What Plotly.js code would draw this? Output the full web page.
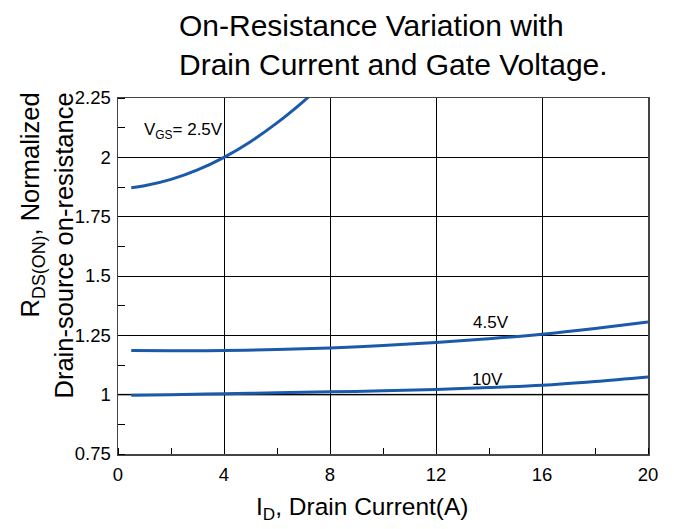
<!DOCTYPE html>
<html>
<head>
<meta charset="utf-8">
<script src="https://cdn.plot.ly/plotly-3.0.1.min.js"></script>
<style>
  html, body { margin: 0; padding: 0; background: #fff; }
  #chart { width: 674px; height: 529px; }
</style>
</head>
<body>
<div id="chart"></div>
<script>
// Drain current (A) and normalized on-resistance for each gate voltage
const idVgs25 = [0.5, 1, 2, 3, 4, 5, 6, 7, 7.5];
const rVgs25  = [1.872, 1.880, 1.907, 1.947, 2.0, 2.066, 2.145, 2.236, 2.287];

const idVgs45 = [0.5, 2, 4, 6, 8, 10, 12, 14, 16, 18, 20];
const rVgs45  = [1.186, 1.185, 1.186, 1.190, 1.197, 1.207, 1.220, 1.236, 1.255, 1.279, 1.306];

const idVgs10 = [0.5, 2, 4, 6, 8, 10, 12, 14, 16, 18, 20];
const rVgs10  = [0.998, 1.000, 1.004, 1.008, 1.012, 1.016, 1.022, 1.030, 1.040, 1.056, 1.075];

const xTicks = [0, 4, 8, 12, 16, 20];
const yTicks = [0.75, 1, 1.25, 1.5, 1.75, 2, 2.25];
const yTickText = ['0.75', '1', '1.25', '1.5', '1.75', '2', '2.25'];

const curveColor = '#1a5aab';
const font = 'Liberation Sans, Arial, sans-serif';

function curve(x, y, name) {
  return {
    x: x, y: y, name: name, type: 'scatter', mode: 'lines',
    line: { color: curveColor, width: 3, shape: 'spline', smoothing: 1 },
    hoverinfo: 'x+y'
  };
}

const data = [
  curve(idVgs25, rVgs25, 'VGS = 2.5V'),
  curve(idVgs45, rVgs45, 'VGS = 4.5V'),
  curve(idVgs10, rVgs10, 'VGS = 10V')
];

const layout = {
  width: 674, height: 529,
  margin: { l: 118, r: 26, t: 97.5, b: 75, pad: 0 },
  paper_bgcolor: '#fff', plot_bgcolor: '#fff',
  showlegend: false,
  font: { family: font, color: '#000' },
  title: {
    text: 'On-Resistance Variation with<br>Drain Current and Gate Voltage.',
    font: { family: font, size: 30, color: '#000' },
    xref: 'container', x: 179 / 674, xanchor: 'left',
    yref: 'container', y: 1 - 36 / 529, yanchor: 'top'
  },
  xaxis: {
    range: [0, 20], tickvals: xTicks, ticks: '',
    tickfont: { family: font, size: 18.5, color: '#000' },
    ticklabelstandoff: 3,
    showgrid: true, gridcolor: '#000', gridwidth: 1,
    showline: true, mirror: true, linecolor: '#444', linewidth: 1.5,
    zeroline: false,
    minor: { dtick: 2, ticks: 'inside', ticklen: 6, tickcolor: '#000', showgrid: false }
  },
  yaxis: {
    range: [0.75, 2.25], tickvals: yTicks, ticktext: yTickText, ticks: '',
    tickfont: { family: font, size: 18.5, color: '#000' },
    ticklabelstandoff: 2,
    showgrid: true, gridcolor: '#000', gridwidth: 1,
    showline: true, mirror: true, linecolor: '#444', linewidth: 1.5,
    zeroline: false,
    minor: { dtick: 0.125, ticks: 'inside', ticklen: 7, tickcolor: '#000', showgrid: false }
  },
  shapes: [
    { type: 'line', xref: 'paper', x0: 0, x1: 1, yref: 'y', y0: 1, y1: 1,
      line: { color: '#888', width: 2 }, layer: 'between' }
  ],
  annotations: [
    { text: 'V<sub>GS</sub>= 2.5V', xref: 'x', yref: 'y', x: 0.9, y: 2.11,
      xanchor: 'left', yanchor: 'middle', showarrow: false,
      font: { family: font, size: 17, color: '#000' } },
    { text: '4.5V', xref: 'x', yref: 'y', x: 14.06, y: 1.302,
      xanchor: 'center', yanchor: 'middle', showarrow: false,
      font: { family: font, size: 17, color: '#000' } },
    { text: '10V', xref: 'x', yref: 'y', x: 13.94, y: 1.064,
      xanchor: 'center', yanchor: 'middle', showarrow: false,
      font: { family: font, size: 17, color: '#000' } },
    { text: 'R<sub>DS(ON)</sub>, Normalized<br>Drain-source on-resistance',
      xref: 'paper', yref: 'paper', x: (47 - 118) / 530, y: (454 - 90) / 356.5,
      xanchor: 'center', yanchor: 'top', textangle: -90, align: 'right',
      showarrow: false, font: { family: font, size: 25.5, color: '#000' } },
    { text: 'I<sub>D</sub>, Drain Current(A)',
      xref: 'paper', yref: 'paper', x: (362 - 118) / 530, y: (454 - 509) / 356.5,
      xanchor: 'center', yanchor: 'middle', showarrow: false,
      font: { family: font, size: 24.5, color: '#000' } }
  ]
};

Plotly.newPlot('chart', data, layout, { displayModeBar: false, staticPlot: true });
</script>
</body>
</html>
